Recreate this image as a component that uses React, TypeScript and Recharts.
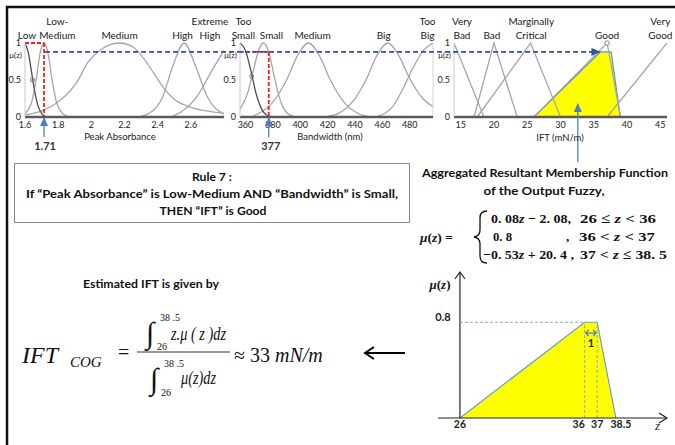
import React from 'react'
import {
  ComposedChart,
  Line,
  Area,
  XAxis,
  YAxis,
  ReferenceLine,
  ReferenceDot,
} from 'recharts'

const SANS = "Lato, 'Liberation Sans Narrow', 'DejaVu Sans Condensed', Arial, sans-serif"
const SERIF = "'Liberation Serif', 'DejaVu Serif', 'Times New Roman', serif"

// ---- input 1: peak absorbance ----
const absTicks = [1.6, 1.8, 2, 2.2, 2.4, 2.6]
const absLowX = [1.6, 1.62, 1.64, 1.66, 1.68, 1.7, 1.72, 1.75]
const absLowMu = [1, 0.87, 0.6, 0.33, 0.14, 0.05, 0.01, 0]
const absLowMedX = [1.6, 1.64, 1.67, 1.69, 1.715, 1.74, 1.76, 1.79, 1.83, 1.87]
const absLowMedMu = [0.05, 0.2, 0.55, 0.85, 1, 0.85, 0.55, 0.2, 0.04, 0]
const absMedX = [1.6, 1.65, 1.72, 1.79, 1.85, 1.91, 1.98, 2.05, 2.17, 2.25, 2.32, 2.38, 2.44, 2.5, 2.6, 2.7, 2.8]
const absMedMu = [0.03, 0.05, 0.1, 0.19, 0.3, 0.46, 0.74, 0.9, 1, 0.95, 0.78, 0.58, 0.38, 0.24, 0.13, 0.08, 0.05]
const absHighX = [2.28, 2.35, 2.43, 2.49, 2.56, 2.63, 2.7, 2.8]
const absHighMu = [0, 0.05, 0.27, 0.68, 1, 0.68, 0.27, 0.04]
const absExtX = [2.48, 2.55, 2.65, 2.72, 2.8]
const absExtMu = [0, 0.08, 0.32, 0.6, 0.9]
const absLabelAt = [1.612, 1.795, 2.17, 2.55, 2.715]
const absLabels = [['Low'], ['Low-', 'Medium'], ['Medium'], ['High'], ['Extreme', 'High']]

// ---- input 2: bandwidth ----
const bwTicks = [360, 380, 400, 420, 440, 460, 480]
const bwTooSmallX = [356, 360, 364, 368, 372, 376, 380]
const bwTooSmallMu = [1, 0.9, 0.62, 0.3, 0.1, 0.02, 0]
const bwSmallX = [356, 362, 366, 370, 373, 377, 381, 385, 390, 396]
const bwSmallMu = [0.1, 0.35, 0.65, 0.92, 1, 0.88, 0.55, 0.25, 0.06, 0]
const bwMedX = [366, 372, 380, 390, 398, 406, 414, 422, 432, 442, 452]
const bwMedMu = [0.02, 0.07, 0.2, 0.5, 0.83, 1, 0.83, 0.5, 0.2, 0.05, 0]
const bwBigX = [420, 428, 438, 448, 456, 464, 472, 480, 490, 497]
const bwBigMu = [0.01, 0.05, 0.2, 0.5, 0.83, 1, 0.83, 0.52, 0.24, 0.14]
const bwTooBigX = [455, 462, 468, 475, 482, 490, 497]
const bwTooBigMu = [0, 0.05, 0.15, 0.38, 0.65, 0.9, 1]
const bwLabelAt = [358.5, 379, 409, 461, 493]
const bwLabels = [['Too', 'Small'], ['Small'], ['Medium'], ['Big'], ['Too', 'Big']]

// ---- output: IFT (mN/m) ----
const iftTicks = [15, 20, 25, 30, 35, 40, 45]
const iftVeryBadX = [14, 18.5]
const iftVeryBadMu = [1, 0]
const iftBadX = [17, 20, 23.5]
const iftBadMu = [0, 1, 0]
const iftMargX = [17.5, 25.5, 30]
const iftMargMu = [0, 1, 0]
const iftGoodX = [26, 37, 39]
const iftGoodMu = [0, 1, 0]
const iftVeryGoodX = [37, 46]
const iftVeryGoodMu = [0, 1]
const iftClipX = [26, 36, 37.6, 39]
const iftClipMu = [0, 0.88, 0.88, 0]
const iftLabelAt = [15.2, 19.7, 25.6, 37, 45]
const iftLabels = [['Very', 'Bad'], ['Bad'], ['Marginally', 'Critical'], ['Good'], ['Very', 'Good']]

// rule 7 firing
const crispAbs = 1.715
const crispBw = 377
const firing = 0.88
const cogIft = 32.6

// aggregated output (bottom right)
const aggZ = [26, 36, 37, 38.5]
const aggMu = [0, 0.8, 0.8, 0]
const aggTickLabels = ['26', '36', '37', '38.5']

type Panel = { left: number; right: number; domain: [number, number] }
const P1: Panel = { left: 25, right: 224, domain: [1.6, 2.8] }
const P2: Panel = { left: 240, right: 433, domain: [356, 497] }
const P3: Panel = { left: 454, right: 667, domain: [14, 46] }
const PB = { left: 438, right: 667, top: 272, bottom: 418, domain: [24.24, 42.6] as [number, number], yMax: 1.22 }
const MF_TOP = 43
const MF_BOTTOM = 117

const sx = (p: Panel, v: number) =>
  p.left + ((v - p.domain[0]) / (p.domain[1] - p.domain[0])) * (p.right - p.left)
const sy = (mu: number) => MF_BOTTOM - mu * (MF_BOTTOM - MF_TOP)
const sxB = (v: number) => PB.left + ((v - PB.domain[0]) / (PB.domain[1] - PB.domain[0])) * (PB.right - PB.left)
const syB = (mu: number) => PB.bottom - (mu / PB.yMax) * (PB.bottom - PB.top)

const pts = (x: number[], mu: number[]) => x.map((v, i) => ({ x: v, mu: mu[i] }))

type Curve = { x: number[]; mu: number[]; dark?: boolean; linear?: boolean }

const catLabel = (lines: string[]) => (props: any) => {
  const vb = props.viewBox || {}
  const x = (vb.x ?? 0) + (vb.width ?? 0) / 2
  const y = (vb.y ?? 0) + (vb.height ?? 0) / 2
  return (
    <text textAnchor="middle" fontSize={10} fontFamily={SANS} fill="#1a1a1a">
      {lines.map((t, i) => (
        <tspan key={i} x={x} y={y - 4 - (lines.length - 1 - i) * 14}>
          {t}
        </tspan>
      ))}
    </text>
  )
}

const tickStyle = { fontSize: 9, fill: '#222', fontFamily: SANS }

function MFChart({
  panel,
  ticks,
  curves,
  labelAt,
  labels,
  children,
}: {
  panel: Panel
  ticks: number[]
  curves: Curve[]
  labelAt: number[]
  labels: string[][]
  children?: React.ReactNode
}) {
  const yw = 25
  const mr = 14
  const width = panel.right - panel.left + yw + mr
  return (
    <div style={{ position: 'absolute', left: panel.left - yw, top: 0 }}>
      <ComposedChart width={width} height={150} margin={{ top: MF_TOP, right: mr, bottom: 0, left: 0 }}>
        <XAxis
          type="number"
          dataKey="x"
          domain={panel.domain}
          ticks={ticks}
          interval={0}
          allowDataOverflow
          axisLine={{ stroke: '#5a5a5a', strokeWidth: 2.5 }}
          tickLine={false}
          tickSize={0}
          tickMargin={5}
          tick={tickStyle}
          height={33}
        />
        <YAxis
          type="number"
          domain={[0, 1]}
          ticks={[0, 0.5, 1]}
          width={yw}
          axisLine={{ stroke: '#c8c8c8' }}
          tickLine={false}
          tickSize={0}
          tickMargin={4}
          tick={tickStyle}
        />
        {curves.map((c, i) => (
          <Line
            key={i}
            name={`c${i}`}
            data={pts(c.x, c.mu)}
            dataKey="mu"
            type={c.linear ? 'linear' : 'monotone'}
            stroke={c.dark ? '#4d4d4d' : '#a6a6a6'}
            strokeWidth={1.3}
            dot={false}
            isAnimationActive={false}
          />
        ))}
        {children}
        {labelAt.map((at, i) => (
          <ReferenceDot
            key={`l${i}`}
            x={at}
            y={1}
            r={0}
            fill="none"
            stroke="none"
            ifOverflow="visible"
            label={{ content: catLabel(labels[i]) }}
          />
        ))}
      </ComposedChart>
    </div>
  )
}

// tick labels of the schematic axis are nudged apart a little, as in the drawing
const aggTickNudge = [0, -6, 0, 5]
function AggTick(props: any) {
  const { x, y, index } = props
  return (
    <text x={x + (aggTickNudge[index] ?? 0)} y={y + 10} textAnchor="middle" fontSize={10.5} fontWeight={700} fill="#222" fontFamily={SANS}>
      {aggTickLabels[index]}
    </text>
  )
}

const RED = '#ff1a1a'
const BLUE = '#2f5597'
const LBLUE = '#4f81bd'

export default function App() {
  return (
    <div style={{ position: 'relative', width: 675, height: 445, overflow: 'hidden', background: '#fff', fontFamily: SANS }}>
      <style>{'body{margin:0}'}</style>

      <MFChart
        panel={P1}
        ticks={absTicks}
        labelAt={absLabelAt}
        labels={absLabels}
        curves={[
          { x: absMedX, mu: absMedMu },
          { x: absHighX, mu: absHighMu },
          { x: absExtX, mu: absExtMu },
          { x: absLowMedX, mu: absLowMedMu },
          { x: absLowX, mu: absLowMu, dark: true },
        ]}
      >
        <ReferenceLine segment={[{ x: 1.6, y: 1 }, { x: crispAbs, y: 1 }]} stroke={RED} strokeWidth={1.8} strokeDasharray="4 2" ifOverflow="visible" />
        <ReferenceLine segment={[{ x: crispAbs, y: 1 }, { x: crispAbs, y: 0 }]} stroke={RED} strokeWidth={1.8} strokeDasharray="4 2" ifOverflow="visible" />
        <ReferenceDot x={1.645} y={0.5} r={2} fill="none" stroke="#777" ifOverflow="visible" />
      </MFChart>

      <MFChart
        panel={P2}
        ticks={bwTicks}
        labelAt={bwLabelAt}
        labels={bwLabels}
        curves={[
          { x: bwMedX, mu: bwMedMu },
          { x: bwBigX, mu: bwBigMu },
          { x: bwTooBigX, mu: bwTooBigMu },
          { x: bwSmallX, mu: bwSmallMu },
          { x: bwTooSmallX, mu: bwTooSmallMu, dark: true },
        ]}
      >
        <ReferenceLine x={497} stroke="#d6d6d6" ifOverflow="visible" />
        <ReferenceLine segment={[{ x: 356, y: firing }, { x: crispBw, y: firing }]} stroke={RED} strokeWidth={1.8} strokeDasharray="4 2" ifOverflow="visible" />
        <ReferenceLine segment={[{ x: crispBw, y: firing }, { x: crispBw, y: 0 }]} stroke={RED} strokeWidth={1.8} strokeDasharray="4 2" ifOverflow="visible" />
        <ReferenceDot x={364.5} y={0.55} r={2} fill="none" stroke="#777" ifOverflow="visible" />
      </MFChart>

      <MFChart
        panel={P3}
        ticks={iftTicks}
        labelAt={iftLabelAt}
        labels={iftLabels}
        curves={[
          { x: iftVeryBadX, mu: iftVeryBadMu, linear: true },
          { x: iftBadX, mu: iftBadMu, linear: true },
          { x: iftMargX, mu: iftMargMu, linear: true },
          { x: iftGoodX, mu: iftGoodMu, linear: true },
          { x: iftVeryGoodX, mu: iftVeryGoodMu, linear: true },
        ]}
      >
        <Area
          data={pts(iftClipX, iftClipMu)}
          dataKey="mu"
          type="linear"
          fill="#ffff00"
          fillOpacity={1}
          stroke="#5b8fd0"
          strokeWidth={1.2}
          isAnimationActive={false}
        />
        <ReferenceDot x={37} y={1} r={2.2} fill="#fff" stroke="#888" ifOverflow="visible" />
      </MFChart>

      {/* aggregated resultant membership function */}
      <div style={{ position: 'absolute', left: 420, top: PB.top - 10 }}>
        <ComposedChart width={260} height={183} margin={{ top: 10, right: 13, bottom: 0, left: 18 }}>
          <XAxis
            type="number"
            dataKey="x"
            domain={PB.domain}
            ticks={aggZ}
            interval={0}
            allowDataOverflow
            axisLine={{ stroke: '#222', strokeWidth: 1.2 }}
            tickLine={false}
            tickSize={0}
            tickMargin={0}
            tick={<AggTick />}
            height={27}
          />
          <YAxis type="number" domain={[0, PB.yMax]} hide width={0} />
          <Area
            data={pts(aggZ, aggMu)}
            dataKey="mu"
            type="linear"
            fill="#ffff00"
            fillOpacity={1}
            stroke="#6a9bd8"
            strokeWidth={1.2}
            isAnimationActive={false}
          />
          <ReferenceLine x={aggZ[0]} stroke="#222" strokeWidth={1.2} />
          <ReferenceLine segment={[{ x: aggZ[0], y: aggMu[1] }, { x: aggZ[1], y: aggMu[1] }]} stroke="#7fa8dc" strokeDasharray="3 2" />
          <ReferenceLine segment={[{ x: aggZ[1], y: 0 }, { x: aggZ[1], y: aggMu[1] }]} stroke="#7fa8dc" strokeDasharray="3 2" />
          <ReferenceLine segment={[{ x: aggZ[2], y: 0 }, { x: aggZ[2], y: aggMu[2] }]} stroke="#7fa8dc" strokeDasharray="3 2" />
        </ComposedChart>
      </div>

      <svg width={675} height={445} style={{ position: 'absolute', left: 0, top: 0, pointerEvents: 'none' }} fontFamily={SANS}>
        <defs>
          <marker id="ab" markerUnits="userSpaceOnUse" markerWidth={9} markerHeight={8} refX={8} refY={4} orient="auto">
            <path d="M0,0 L9,4 L0,8 Z" fill={BLUE} />
          </marker>
          <marker id="al" markerUnits="userSpaceOnUse" markerWidth={9} markerHeight={8} refX={8} refY={4} orient="auto">
            <path d="M0,0 L9,4 L0,8 Z" fill={LBLUE} />
          </marker>
        </defs>

        {/* outer frame */}
        <path d="M7,445 L7,7 L675,7" fill="none" stroke="#111" strokeWidth={2.5} />

        {/* firing strength carried to output */}
        <line x1={sx(P1, crispAbs) + 1} y1={sy(firing)} x2={sx(P3, iftClipX[1]) - 1} y2={sy(firing)} stroke={BLUE} strokeWidth={1.8} strokeDasharray="5 3" markerEnd="url(#ab)" />

        {/* crisp inputs */}
        <line x1={sx(P1, crispAbs)} y1={137} x2={sx(P1, crispAbs)} y2={118} stroke={LBLUE} strokeWidth={1.3} markerEnd="url(#al)" />
        <line x1={sx(P2, crispBw)} y1={137} x2={sx(P2, crispBw)} y2={118} stroke={LBLUE} strokeWidth={1.3} markerEnd="url(#al)" />
        <text x={sx(P1, crispAbs) + 1} y={150} textAnchor="middle" fontSize={11} fontWeight={700} fill="#333">1.71</text>
        <text x={sx(P2, crispBw) + 2} y={150} textAnchor="middle" fontSize={11} fontWeight={700} fill="#333">377</text>
        <line x1={sx(P3, cogIft)} y1={162} x2={sx(P3, cogIft)} y2={104} stroke={LBLUE} strokeWidth={1.3} markerEnd="url(#al)" />

        {/* axis titles & mu labels */}
        <text x={120} y={140} textAnchor="middle" fontSize={9.5} fill="#222">Peak Absorbance</text>
        <text x={330} y={140} textAnchor="middle" fontSize={9.5} fill="#222">Bandwidth (nm)</text>
        <text x={560} y={141} textAnchor="middle" fontSize={9.5} fill="#222">IFT (mN/m)</text>
        {[P1, P2, P3].map((p, i) => (
          <text key={i} x={p.left - 3} y={58} textAnchor="end" fontSize={8} fill="#222">μ(z)</text>
        ))}

        {/* rule box */}
        <rect x={14.5} y={163.5} width={395} height={59} fill="none" stroke="#8c8c8c" />
        <text x={212} y={181} textAnchor="middle" fontSize={11.5} fontWeight={700} fill="#111" textLength={40} lengthAdjust="spacingAndGlyphs">Rule 7 :</text>
        <text x={212} y={198} textAnchor="middle" fontSize={11.5} fontWeight={700} fill="#111" textLength={372} lengthAdjust="spacingAndGlyphs">
          If “Peak Absorbance” is Low-Medium  AND  “Bandwidth” is Small,
        </text>
        <text x={213} y={215} textAnchor="middle" fontSize={11.5} fontWeight={700} fill="#111" textLength={107} lengthAdjust="spacingAndGlyphs">THEN “IFT” is Good</text>

        {/* aggregated heading */}
        <text x={545} y={177} textAnchor="middle" fontSize={12} fontWeight={700} fill="#111" textLength={246} lengthAdjust="spacingAndGlyphs">Aggregated Resultant Membership Function</text>
        <text x={544} y={195} textAnchor="middle" fontSize={12} fontWeight={700} fill="#111" textLength={121} lengthAdjust="spacingAndGlyphs">of the Output Fuzzy,</text>

        {/* piecewise definition */}
        <g fontFamily={SERIF} fontWeight={700} fontSize={13.5} fill="#111">
          <text x={420} y={242}>
            <tspan fontStyle="italic">μ</tspan>(<tspan fontStyle="italic">z</tspan>) =
          </text>
          <path d="M487,211 Q480,211 480,218 L480,230 Q480,236 474,237 Q480,238 480,244 L480,256 Q480,263 487,263" fill="none" stroke="#111" strokeWidth={1.3} />
          <text x={491} y={223} textLength={80} lengthAdjust="spacingAndGlyphs">0. 08<tspan fontStyle="italic">z</tspan> − 2. 08,</text>
          <text x={580} y={223} textLength={76} lengthAdjust="spacingAndGlyphs">26 ≤ <tspan fontStyle="italic">z</tspan> &lt; 36</text>
          <text x={493} y={241} textLength={19} lengthAdjust="spacingAndGlyphs">0. 8</text>
          <text x={566} y={241}>,</text>
          <text x={579} y={241} textLength={76} lengthAdjust="spacingAndGlyphs">36 &lt; <tspan fontStyle="italic">z</tspan> &lt; 37</text>
          <text x={483} y={259} textLength={91} lengthAdjust="spacingAndGlyphs">−0. 53<tspan fontStyle="italic">z</tspan> + 20. 4 ,</text>
          <text x={580} y={259} textLength={87} lengthAdjust="spacingAndGlyphs">37 &lt; <tspan fontStyle="italic">z</tspan> ≤ 38. 5</text>
        </g>

        {/* centre of gravity */}
        <text x={151} y={288} textAnchor="middle" fontSize={11.5} fontWeight={700} fill="#111" textLength={136} lengthAdjust="spacingAndGlyphs">Estimated IFT is given by</text>
        <g fontFamily={SERIF} fill="#111">
          <text x={22} y={363} fontSize={24} fontStyle="italic">IFT</text>
          <text x={70} y={367} fontSize={15} fontStyle="italic">COG</text>
          <text x={118} y={359} fontSize={20}>=</text>
          <line x1={137} y1={352} x2={230} y2={352} stroke="#333" strokeWidth={1} />
          <text x={146} y={343} fontSize={30}>∫</text>
          <text x={160} y={321} fontSize={10}>38 .5</text>
          <text x={157} y={350} fontSize={10}>26</text>
          <text x={171} y={340} fontSize={19} fontStyle="italic" textLength={55} lengthAdjust="spacingAndGlyphs">z.μ ( z )dz</text>
          <text x={150} y={389} fontSize={30}>∫</text>
          <text x={164} y={367} fontSize={10}>38 .5</text>
          <text x={161} y={396} fontSize={10}>26</text>
          <text x={181} y={384} fontSize={19} fontStyle="italic" textLength={35} lengthAdjust="spacingAndGlyphs">μ(z)dz</text>
          <text x={234} y={362} fontSize={20}>
            ≈ 33 <tspan fontStyle="italic">mN/m</tspan>
          </text>
        </g>

        {/* arrow to the formula */}
        <path d="M405,353 L366,353 M374,347 L365,353 L374,359" fill="none" stroke="#000" strokeWidth={2} />

        {/* aggregated chart decorations */}
        <path d={`M${sxB(aggZ[0]) - 5},${PB.top + 7} L${sxB(aggZ[0])},${PB.top} L${sxB(aggZ[0]) + 5},${PB.top + 7}`} fill="none" stroke="#222" strokeWidth={1.2} />
        <path d={`M${PB.right - 8},${PB.bottom - 5} L${PB.right},${PB.bottom} L${PB.right - 8},${PB.bottom + 5}`} fill="none" stroke="#222" strokeWidth={1.2} />
        <text x={440} y={289} textAnchor="middle" fontFamily={SERIF} fontSize={13} fontWeight={700} fill="#111">
          <tspan fontStyle="italic">μ</tspan>(<tspan fontStyle="italic">z</tspan>)
        </text>
        <text x={443} y={321} textAnchor="middle" fontSize={11} fontWeight={700} fill="#222">0.8</text>
        <text x={655} y={430} fontFamily={SERIF} fontSize={13} fontStyle="italic" fill="#222">z</text>
        <path
          d={`M${sxB(aggZ[1]) + 1},${syB(0.71)} L${sxB(aggZ[2]) - 1},${syB(0.71)} M${sxB(aggZ[1]) + 4},${syB(0.71) - 3} L${sxB(aggZ[1]) + 1},${syB(0.71)} L${sxB(aggZ[1]) + 4},${syB(0.71) + 3} M${sxB(aggZ[2]) - 4},${syB(0.71) - 3} L${sxB(aggZ[2]) - 1},${syB(0.71)} L${sxB(aggZ[2]) - 4},${syB(0.71) + 3}`}
          fill="none"
          stroke={LBLUE}
          strokeWidth={1.2}
        />
        <text x={(sxB(aggZ[1]) + sxB(aggZ[2])) / 2} y={347} textAnchor="middle" fontSize={11} fontWeight={700} fill="#222">1</text>
      </svg>
    </div>
  )
}
